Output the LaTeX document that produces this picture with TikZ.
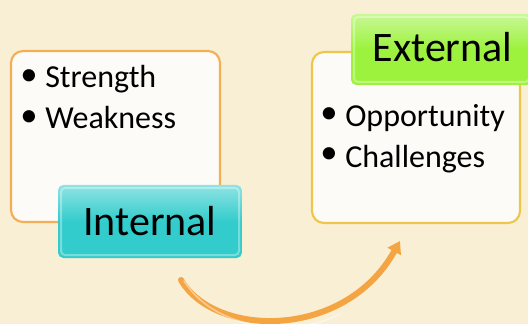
\documentclass[tikz,border=0pt]{standalone}
\usepackage{fontspec}
\setmainfont{Carlito}
\usetikzlibrary{arrows.meta,shadings}
\definecolor{bgc}{HTML}{F9EFD5}
\definecolor{panelfill}{HTML}{FCFBF7}
\definecolor{lborder}{HTML}{F5AE55}
\definecolor{rborder}{HTML}{EEC64A}
\definecolor{teal}{HTML}{33CCCC}
\definecolor{lime}{HTML}{9CF23D}
\definecolor{arrowc}{HTML}{F4A542}
\tikzset{
  panel/.style={draw=#1, line width=1.6pt, fill=panelfill, rounded corners=9pt},
  tag/.style={rounded corners=4pt, top color=#1!55!white, bottom color=#1, middle color=#1},
  itemtext/.style={font=\fontsize{24}{28}\selectfont, anchor=base west, inner sep=0pt},
  bulletdot/.style={font=\fontsize{26}{28}\selectfont, anchor=center, inner sep=0pt},
  tagtext/.style={font=\fontsize{31.5}{36}\selectfont, anchor=base, inner sep=0pt},
}
\begin{document}
\begin{tikzpicture}[x=0.75pt,y=-0.75pt]
\fill[bgc] (0,0) rectangle (528,324);
\useasboundingbox (0,0) rectangle (528,324);
% left panel
\path[panel=lborder] (11,51) rectangle (220,222);
\node[inner sep=0pt, minimum size=0pt] (lbox) at (115.5,136.5) {};
\node[bulletdot] (lb1) at (29,78) {•};
\node[itemtext] (lt1) at (45,88) {Strength};
\node[bulletdot] (lb2) at (29,119) {•};
\node[itemtext] (lt2) at (45,129) {Weakness};
% internal tag
\shade[tag=teal] (58,185) rectangle (242,258);
\draw[white, opacity=0.35, line width=1.5pt, rounded corners=3pt] (61,188) rectangle (239,255);
\node[tagtext] (intl) at (150,235) {Internal};
% right panel
\path[panel=rborder] (312,52) rectangle (520,223);
\node[inner sep=0pt, minimum size=0pt] (rbox) at (416,137.5) {};
\node[bulletdot] (rb1) at (329,116) {•};
\node[itemtext] (rt1) at (345,127) {Opportunity};
\node[bulletdot] (rb2) at (329,156) {•};
\node[itemtext] (rt2) at (345,167) {Challenges};
% external tag
\shade[tag=lime] (351,14) rectangle (532,85);
\draw[white, opacity=0.35, line width=1.5pt, rounded corners=3pt] (354,17) rectangle (529,82);
\node[tagtext] (extl) at (442.5,62) {External};
% arrow
\coordinate (astart) at (181,280);
\coordinate (aend) at (400,241);
\draw[arrowc, line width=4.5pt, line cap=round, -{Triangle[length=9pt,width=11pt]}]
  (astart) .. controls (215,338) and (345,340) .. (aend);
\draw[white, opacity=0.45, line width=1.1pt, line cap=round]
  (184,281) .. controls (218,334) and (300,336) .. (340,314);
\end{tikzpicture}
\end{document}
